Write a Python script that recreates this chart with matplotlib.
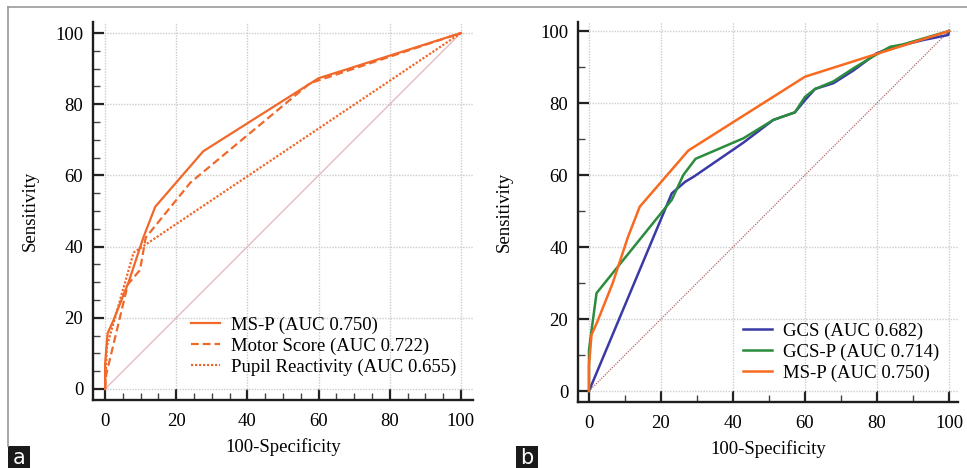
import matplotlib
matplotlib.use("Agg")
import matplotlib.pyplot as plt
from matplotlib.ticker import MultipleLocator
from matplotlib.lines import Line2D
from matplotlib.patches import Rectangle

# ---------------- data ----------------
# Panel a
msp_fpr = [0, 0, 0.7, 2.3, 6.6, 10.8, 14.1, 27.6, 60, 100]
msp_tpr = [0, 7, 15.6, 19.2, 30, 42.7, 51.2, 66.8, 87.3, 100]
motor_fpr = [0, 0.3, 6.4, 9.8, 11.4, 24.0, 57.6, 100]
motor_tpr = [0, 4, 29.4, 33.4, 42.5, 58.0, 85.9, 100]
pupil_fpr = [0, 0.5, 8.0, 100]
pupil_tpr = [0, 12, 38.3, 100]
labels_a = ["MS-P (AUC 0.750)", "Motor Score (AUC 0.722)", "Pupil Reactivity (AUC 0.655)"]

# Panel b
gcs_fpr = [0, 23, 26.7, 29.2, 42.9, 51.2, 57.2, 60, 62.8, 67.9, 73.4, 79.9, 83.6, 92.9, 99.8, 100]
gcs_tpr = [0, 54.9, 58.1, 59.6, 69, 75.3, 77.4, 80.8, 83.9, 85.5, 89, 93.8, 95.2, 97.5, 98.9, 100]
gcsp_fpr = [0, 0, 0.6, 2.1, 23, 26.2, 29.6, 42.9, 51.2, 57.2, 60, 62.8, 67.9, 73.4, 78, 83.6, 87.3, 100]
gcsp_tpr = [0, 11.4, 16, 27.2, 53.1, 60, 64.5, 70.2, 75.3, 77.4, 81.7, 83.9, 86, 89.6, 92.4, 95.6, 96.3, 100]
labels_b = ["GCS (AUC 0.682)", "GCS-P (AUC 0.714)", "MS-P (AUC 0.750)"]

ticks = [0, 20, 40, 60, 80, 100]
diag = [0, 100]

# ---------------- style ----------------
plt.rcParams['font.family'] = ['Liberation Serif', 'DejaVu Serif']
FS = 13.5
ORANGE_A = '#f0682a'
ORANGE_B = '#f86a1f'
GREEN = '#2a8c3c'
BLUE = '#3a3aa6'

fig = plt.figure(figsize=(9.67, 4.68), dpi=100)

def style_axes(ax, xlim, ylim, minor, ylabelpad):
    ax.set_xlim(*xlim)
    ax.set_ylim(*ylim)
    for s in ['top', 'right']:
        ax.spines[s].set_visible(False)
    for s in ['left', 'bottom']:
        ax.spines[s].set_linewidth(1.7)
        ax.spines[s].set_color('#1e1e1e')
    ax.set_xticks(ticks)
    ax.set_yticks(ticks)
    ax.xaxis.set_minor_locator(MultipleLocator(minor))
    ax.yaxis.set_minor_locator(MultipleLocator(minor))
    ax.tick_params(which='major', direction='in', length=8, width=1.6,
                   labelsize=FS, color='#222222', pad=7)
    ax.tick_params(which='minor', direction='in', length=5, width=1.0, color='#444444')
    ax.tick_params(axis='x', which='major', pad=9)
    ax.grid(True, which='major', color='#cccccc', linestyle=(0, (1, 1)), linewidth=1.0)
    ax.set_axisbelow(True)
    ax.set_xlabel('100-Specificity', fontsize=FS, labelpad=6)
    ax.set_ylabel('Sensitivity', fontsize=FS, labelpad=ylabelpad)

# Panel a
axa = fig.add_axes([93/967, 68/468, 380/967, 378/468])
style_axes(axa, (-3.4, 103.4), (-3.1, 103.1), 5, 12)
axa.plot(diag, diag, color='#e3b4bb', linewidth=0.9, zorder=2)
la1, = axa.plot(msp_fpr, msp_tpr, color=ORANGE_A, linewidth=1.6, zorder=3)
la2, = axa.plot(motor_fpr, motor_tpr, color=ORANGE_A, linewidth=1.6, linestyle=(0, (3.5, 1.8)), zorder=3)
la3, = axa.plot(pupil_fpr, pupil_tpr, color=ORANGE_A, linewidth=1.6, linestyle=(0, (1, 0.8)), zorder=3)
axa.legend([la1, la2, la3], labels_a, loc='center left', bbox_to_anchor=(0.258, 0.143),
           frameon=False, fontsize=FS, handlelength=1.55, handletextpad=0.6,
           labelspacing=0.2, borderpad=0, borderaxespad=0)

# Panel b
axb = fig.add_axes([578/967, 66/468, 380/967, 380/468])
style_axes(axb, (-3.05, 102.5), (-3.05, 102.5), 10, 20)
axb.plot(diag, diag, color='#b56a6a', linewidth=0.9, linestyle=(0, (1, 1)), zorder=2)
lb1, = axb.plot(gcs_fpr, gcs_tpr, color=BLUE, linewidth=1.8, zorder=3)
lb2, = axb.plot(gcsp_fpr, gcsp_tpr, color=GREEN, linewidth=1.8, zorder=4)
lb3, = axb.plot(msp_fpr, msp_tpr, color=ORANGE_B, linewidth=1.8, zorder=5)
axb.legend([lb1, lb2, lb3], labels_b, loc='center left', bbox_to_anchor=(0.434, 0.1316),
           frameon=False, fontsize=FS, handlelength=1.55, handletextpad=0.6,
           labelspacing=0.2, borderpad=0, borderaxespad=0)

# frame lines (top and left)
fig.add_artist(Line2D([8/967, 1.0], [1 - 7/468, 1 - 7/468], color='#9a9a9a', linewidth=1.2,
                      transform=fig.transFigure))
fig.add_artist(Line2D([8/967, 8/967], [1 - 7/468, 22/468], color='#9a9a9a', linewidth=1.2,
                      transform=fig.transFigure))

# panel letters
for x0, letter in [(8, 'a'), (516, 'b')]:
    fig.add_artist(Rectangle((x0/967, 0), 22/967, 22/468, transform=fig.transFigure,
                             facecolor='#1a1a1a', edgecolor='none'))
    fig.text((x0 + 11)/967, 10/468, letter, color='white', fontsize=15,
             family=['DejaVu Sans'], ha='center', va='center')

fig.savefig('out.png', dpi=100)
